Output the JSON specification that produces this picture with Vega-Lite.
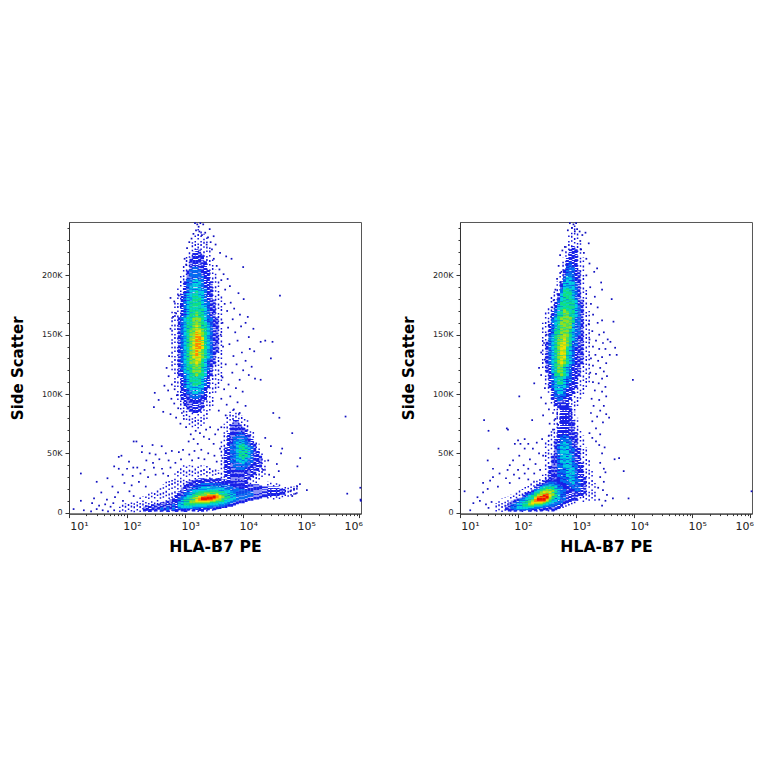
{
"$schema":"https://vega.github.io/schema/vega-lite/v5.json",
"background":"white",
"padding":{"left":9,"top":221,"right":0,"bottom":0},
"bounds":"flush",
"spacing":99,
"config":{"view":{"stroke":"#555","strokeWidth":1},"axis":{"labelFont":"DejaVu Sans","titleFont":"DejaVu Sans","labelColor":"#222","titleColor":"#000","domainColor":"#333","tickColor":"#333","grid":false,"titleFontWeight":"bold"}},
"datasets":{
"halo1":[
{"x":596,"y":120,"y2":170},{"x":668,"y":106,"y2":180},{"x":750,"y":95,"y2":190},{"x":841,"y":87,"y2":200},{"x":944,"y":81,"y2":210},{"x":1059,"y":78,"y2":216},{"x":1189,"y":74,"y2":222},{"x":1334,"y":72,"y2":228},{"x":1496,"y":73,"y2":235},{"x":1679,"y":71,"y2":240},{"x":1884,"y":73,"y2":240},{"x":2113,"y":75,"y2":235},{"x":2371,"y":79,"y2":232},{"x":2661,"y":86,"y2":225},{"x":2985,"y":90,"y2":215},{"x":3350,"y":101,"y2":205},{"x":3758,"y":105,"y2":195},{"x":4217,"y":111,"y2":185},
{"x":4217,"y":18,"y2":60},{"x":4732,"y":23,"y2":75},{"x":5309,"y":20,"y2":82},{"x":5957,"y":22,"y2":85},{"x":6683,"y":19,"y2":88},{"x":7499,"y":21,"y2":85},{"x":8414,"y":23,"y2":85},{"x":9441,"y":20,"y2":82},{"x":10590,"y":22,"y2":80},{"x":11890,"y":21,"y2":78},{"x":13340,"y":24,"y2":72},{"x":14960,"y":26,"y2":68},{"x":16790,"y":25,"y2":62},{"x":18840,"y":28,"y2":58},{"x":21130,"y":30,"y2":52},{"x":23710,"y":32,"y2":45},
{"x":75,"y":0.5,"y2":5},{"x":84,"y":1.5,"y2":7},{"x":94,"y":0.8,"y2":8},{"x":106,"y":2.2,"y2":8},{"x":119,"y":1,"y2":10},{"x":133,"y":0.4,"y2":10},{"x":150,"y":1.8,"y2":11},{"x":168,"y":0.6,"y2":13},{"x":188,"y":2.6,"y2":14},{"x":211,"y":1.3,"y2":15},{"x":237,"y":0.5,"y2":16},{"x":266,"y":2,"y2":17},{"x":299,"y":1,"y2":18},{"x":335,"y":3,"y2":20},{"x":376,"y":0.7,"y2":22},{"x":422,"y":1.7,"y2":24},{"x":473,"y":2.9,"y2":26},{"x":531,"y":0.5,"y2":28},{"x":596,"y":1.4,"y2":30},{"x":668,"y":2.4,"y2":33},{"x":750,"y":0.9,"y2":36},{"x":841,"y":3.2,"y2":38},{"x":944,"y":1.6,"y2":40},{"x":1059,"y":0.5,"y2":40},{"x":1189,"y":2.1,"y2":40},{"x":1334,"y":1.1,"y2":40},{"x":1496,"y":3,"y2":40},{"x":1679,"y":0.6,"y2":40},{"x":1884,"y":1.9,"y2":40},{"x":2113,"y":2.7,"y2":40},{"x":2371,"y":1,"y2":40},{"x":2661,"y":3.4,"y2":38},{"x":2985,"y":1.5,"y2":38},{"x":3350,"y":2.3,"y2":38},{"x":3758,"y":3.1,"y2":36},
{"x":26610,"y":12,"y2":26},{"x":29850,"y":13,"y2":26},{"x":33500,"y":11,"y2":25},{"x":37580,"y":12.5,"y2":25},{"x":42170,"y":11.5,"y2":25},{"x":47320,"y":13,"y2":24},{"x":53090,"y":14,"y2":24},{"x":59570,"y":13.5,"y2":23},{"x":66830,"y":14.5,"y2":22},{"x":74990,"y":15,"y2":22},{"x":84140,"y":16,"y2":23}
],
"cols1":[
{"x":794,"y":115,"y2":165,"d":1},{"x":891,"y":95,"y2":185,"d":1},{"x":1000,"y":90,"y2":195,"d":1},{"x":1122,"y":87,"y2":205,"d":1},{"x":1259,"y":85,"y2":215,"d":1},{"x":1413,"y":84,"y2":220,"d":1},{"x":1585,"y":84,"y2":222,"d":1},{"x":1778,"y":85,"y2":222,"d":1},{"x":1995,"y":88,"y2":218,"d":1},{"x":2239,"y":95,"y2":212,"d":1},{"x":2512,"y":105,"y2":205,"d":1},{"x":2818,"y":115,"y2":195,"d":1},{"x":3162,"y":125,"y2":180,"d":1},{"x":3548,"y":135,"y2":165,"d":1},
{"x":891,"y":120,"y2":165,"d":2},{"x":1000,"y":105,"y2":185,"d":2},{"x":1122,"y":100,"y2":198,"d":2},{"x":1259,"y":97,"y2":205,"d":2},{"x":1413,"y":96,"y2":208,"d":2},{"x":1585,"y":96,"y2":208,"d":2},{"x":1778,"y":97,"y2":205,"d":2},{"x":1995,"y":100,"y2":200,"d":2},{"x":2239,"y":107,"y2":190,"d":2},{"x":2512,"y":120,"y2":178,"d":2},{"x":2818,"y":130,"y2":165,"d":2},
{"x":1000,"y":118,"y2":165,"d":3},{"x":1122,"y":105,"y2":185,"d":3},{"x":1259,"y":103,"y2":192,"d":3},{"x":1413,"y":100,"y2":196,"d":3},{"x":1585,"y":100,"y2":197,"d":3},{"x":1778,"y":102,"y2":195,"d":3},{"x":1995,"y":105,"y2":188,"d":3},{"x":2239,"y":115,"y2":175,"d":3},{"x":2512,"y":130,"y2":160,"d":3},
{"x":1122,"y":120,"y2":165,"d":4},{"x":1259,"y":110,"y2":178,"d":4},{"x":1413,"y":107,"y2":185,"d":4},{"x":1585,"y":107,"y2":187,"d":4},{"x":1778,"y":108,"y2":182,"d":4},{"x":1995,"y":115,"y2":172,"d":4},{"x":2239,"y":130,"y2":160,"d":4},
{"x":1259,"y":125,"y2":155,"d":5},{"x":1413,"y":118,"y2":165,"d":5},{"x":1585,"y":115,"y2":170,"d":5},{"x":1778,"y":118,"y2":165,"d":5},{"x":1995,"y":130,"y2":155,"d":5},
{"x":1413,"y":130,"y2":150,"d":6},{"x":1585,"y":125,"y2":158,"d":6},{"x":1778,"y":128,"y2":155,"d":6},{"x":1995,"y":138,"y2":148,"d":6},
{"x":1585,"y":132,"y2":152,"d":7},{"x":1778,"y":138,"y2":150,"d":7},
{"x":5012,"y":30,"y2":55,"d":1},{"x":5623,"y":25,"y2":68,"d":1},{"x":6310,"y":22,"y2":75,"d":1},{"x":7079,"y":22,"y2":78,"d":1},{"x":7943,"y":22,"y2":78,"d":1},{"x":8913,"y":22,"y2":75,"d":1},{"x":10000,"y":22,"y2":72,"d":1},{"x":11220,"y":25,"y2":70,"d":1},{"x":12590,"y":28,"y2":66,"d":1},{"x":14130,"y":30,"y2":62,"d":1},{"x":15850,"y":32,"y2":58,"d":1},{"x":17780,"y":35,"y2":52,"d":1},{"x":19950,"y":38,"y2":48,"d":1},
{"x":6310,"y":42,"y2":58,"d":2},{"x":7079,"y":38,"y2":64,"d":2},{"x":7943,"y":36,"y2":67,"d":2},{"x":8913,"y":36,"y2":68,"d":2},{"x":10000,"y":36,"y2":66,"d":2},{"x":11220,"y":38,"y2":64,"d":2},{"x":12590,"y":40,"y2":60,"d":2},{"x":14130,"y":42,"y2":56,"d":2},
{"x":7943,"y":43,"y2":60,"d":3},{"x":8913,"y":42,"y2":62,"d":3},{"x":10000,"y":41,"y2":61,"d":3},{"x":11220,"y":43,"y2":58,"d":3},{"x":12590,"y":46,"y2":55,"d":3},
{"x":8913,"y":47,"y2":57,"d":4},{"x":10000,"y":45,"y2":58,"d":4},{"x":11220,"y":47,"y2":55,"d":4},
{"x":200,"y":1,"y2":5,"d":1},{"x":224,"y":1.6,"y2":6,"d":1},{"x":251,"y":0.6,"y2":6,"d":1},{"x":282,"y":2,"y2":7,"d":1},{"x":316,"y":1,"y2":7,"d":1},{"x":355,"y":2.4,"y2":8,"d":1},{"x":398,"y":0.8,"y2":9,"d":1},{"x":447,"y":1.8,"y2":9,"d":1},{"x":501,"y":0.5,"y2":10,"d":1},{"x":562,"y":2.6,"y2":11,"d":1},{"x":631,"y":1.2,"y2":13,"d":1},{"x":708,"y":0.5,"y2":16,"d":1},{"x":794,"y":2.1,"y2":18,"d":1},{"x":891,"y":1,"y2":21,"d":1},{"x":1000,"y":0.5,"y2":24,"d":1},{"x":1122,"y":1.7,"y2":26,"d":1},{"x":1259,"y":2.8,"y2":27,"d":1},{"x":1413,"y":1,"y2":28,"d":1},{"x":1585,"y":2.2,"y2":28,"d":1},{"x":1778,"y":1.4,"y2":29,"d":1},{"x":1995,"y":0.7,"y2":29,"d":1},{"x":2239,"y":2.5,"y2":29,"d":1},{"x":2512,"y":2,"y2":29,"d":1},{"x":2818,"y":3.2,"y2":29,"d":1},{"x":3162,"y":2,"y2":29,"d":1},{"x":3548,"y":2.9,"y2":29,"d":1},{"x":3981,"y":3,"y2":29,"d":1},{"x":4467,"y":4,"y2":28,"d":1},{"x":5012,"y":4,"y2":28,"d":1},{"x":5623,"y":5,"y2":27,"d":1},{"x":6310,"y":5,"y2":26,"d":1},{"x":7079,"y":6,"y2":26,"d":1},{"x":7943,"y":7,"y2":25,"d":1},{"x":8913,"y":8,"y2":25,"d":1},{"x":10000,"y":8,"y2":25,"d":1},{"x":11220,"y":9,"y2":25,"d":1},{"x":12590,"y":10,"y2":24,"d":1},{"x":14130,"y":10,"y2":24,"d":1},{"x":15850,"y":11,"y2":24,"d":1},{"x":17780,"y":11,"y2":24,"d":1},{"x":19950,"y":12,"y2":23,"d":1},{"x":22390,"y":13,"y2":22,"d":1},{"x":25120,"y":13,"y2":22,"d":1},{"x":28180,"y":14,"y2":22,"d":1},{"x":31620,"y":14,"y2":22,"d":1},{"x":35480,"y":14,"y2":22,"d":1},{"x":39810,"y":14,"y2":22,"d":1},{"x":44670,"y":15,"y2":21,"d":1},{"x":50120,"y":15,"y2":20,"d":1},
{"x":398,"y":2,"y2":5,"d":2},{"x":501,"y":2,"y2":6,"d":2},{"x":631,"y":2,"y2":8,"d":2},{"x":794,"y":3,"y2":12,"d":2},{"x":891,"y":3,"y2":14,"d":2},{"x":1000,"y":3,"y2":17,"d":2},{"x":1122,"y":3,"y2":19,"d":2},{"x":1259,"y":3,"y2":21,"d":2},{"x":1413,"y":3,"y2":22,"d":2},{"x":1585,"y":3,"y2":23,"d":2},{"x":1778,"y":4,"y2":24,"d":2},{"x":1995,"y":4,"y2":25,"d":2},{"x":2239,"y":4,"y2":25,"d":2},{"x":2512,"y":4,"y2":25,"d":2},{"x":2818,"y":4,"y2":25,"d":2},{"x":3162,"y":5,"y2":25,"d":2},{"x":3548,"y":5,"y2":25,"d":2},{"x":3981,"y":5,"y2":25,"d":2},{"x":4467,"y":5,"y2":24,"d":2},{"x":5012,"y":6,"y2":24,"d":2},{"x":5623,"y":7,"y2":23,"d":2},{"x":6310,"y":8,"y2":22,"d":2},{"x":7079,"y":9,"y2":21,"d":2},{"x":7943,"y":10,"y2":21,"d":2},{"x":8913,"y":11,"y2":20,"d":2},{"x":10000,"y":11,"y2":20,"d":2},{"x":11220,"y":12,"y2":19,"d":2},{"x":12590,"y":13,"y2":19,"d":2},{"x":14130,"y":14,"y2":18,"d":2},
{"x":794,"y":5,"y2":9,"d":3},{"x":891,"y":4,"y2":11,"d":3},{"x":1000,"y":4,"y2":13,"d":3},{"x":1122,"y":4,"y2":15,"d":3},{"x":1259,"y":4,"y2":17,"d":3},{"x":1413,"y":5,"y2":19,"d":3},{"x":1585,"y":5,"y2":20,"d":3},{"x":1778,"y":5,"y2":21,"d":3},{"x":1995,"y":5,"y2":22,"d":3},{"x":2239,"y":5,"y2":22,"d":3},{"x":2512,"y":6,"y2":22,"d":3},{"x":2818,"y":6,"y2":22,"d":3},{"x":3162,"y":6,"y2":22,"d":3},{"x":3548,"y":6,"y2":22,"d":3},{"x":3981,"y":7,"y2":21,"d":3},{"x":4467,"y":7,"y2":21,"d":3},{"x":5012,"y":8,"y2":20,"d":3},{"x":5623,"y":9,"y2":19,"d":3},{"x":6310,"y":10,"y2":18,"d":3},{"x":7079,"y":11,"y2":17,"d":3},
{"x":1000,"y":6,"y2":11,"d":4},{"x":1122,"y":6,"y2":13,"d":4},{"x":1259,"y":6,"y2":14,"d":4},{"x":1413,"y":6,"y2":16,"d":4},{"x":1585,"y":7,"y2":17,"d":4},{"x":1778,"y":7,"y2":18,"d":4},{"x":1995,"y":7,"y2":18,"d":4},{"x":2239,"y":7,"y2":19,"d":4},{"x":2512,"y":7,"y2":19,"d":4},{"x":2818,"y":8,"y2":19,"d":4},{"x":3162,"y":8,"y2":19,"d":4},{"x":3548,"y":8,"y2":19,"d":4},{"x":3981,"y":9,"y2":18,"d":4},{"x":4467,"y":9,"y2":18,"d":4},{"x":5012,"y":11,"y2":17,"d":4},{"x":5623,"y":12,"y2":16,"d":4},
{"x":1259,"y":8,"y2":12,"d":5},{"x":1413,"y":8,"y2":14,"d":5},{"x":1585,"y":8,"y2":15,"d":5},{"x":1778,"y":8,"y2":16,"d":5},{"x":1995,"y":8,"y2":16,"d":5},{"x":2239,"y":8,"y2":17,"d":5},{"x":2512,"y":8,"y2":17,"d":5},{"x":2818,"y":9,"y2":17,"d":5},{"x":3162,"y":9,"y2":17,"d":5},{"x":3548,"y":10,"y2":17,"d":5},{"x":3981,"y":10,"y2":16,"d":5},{"x":4467,"y":12,"y2":15,"d":5},
{"x":1585,"y":9,"y2":13,"d":6},{"x":1778,"y":9,"y2":14,"d":6},{"x":1995,"y":9,"y2":15,"d":6},{"x":2239,"y":9,"y2":15,"d":6},{"x":2512,"y":9,"y2":16,"d":6},{"x":2818,"y":10,"y2":16,"d":6},{"x":3162,"y":10,"y2":16,"d":6},{"x":3548,"y":11,"y2":16,"d":6},{"x":3981,"y":12,"y2":15,"d":6},
{"x":1778,"y":10,"y2":13,"d":7},{"x":1995,"y":10,"y2":14,"d":7},{"x":2239,"y":10,"y2":14,"d":7},{"x":2512,"y":10,"y2":15,"d":7},{"x":2818,"y":10,"y2":15,"d":7},{"x":3162,"y":11,"y2":15,"d":7},{"x":3548,"y":12,"y2":15,"d":7},
{"x":1995,"y":10.5,"y2":13.5,"d":8},{"x":2239,"y":10.5,"y2":14,"d":8},{"x":2512,"y":11,"y2":14,"d":8},{"x":2818,"y":11,"y2":14.5,"d":8},{"x":3162,"y":12,"y2":14.5,"d":8}
],
"dots1":[
{"x":1480,"y":244},{"x":1620,"y":243},{"x":1710,"y":241},{"x":1830,"y":244},{"x":2050,"y":243},{"x":1540,"y":238},{"x":1760,"y":237},{"x":2220,"y":236},{"x":2650,"y":239},{"x":1390,"y":235},{"x":1950,"y":234},{"x":2480,"y":232},{"x":3100,"y":233},{"x":1290,"y":231},{"x":2750,"y":228},{"x":1180,"y":228},{"x":2350,"y":226},{"x":3350,"y":226},{"x":1080,"y":223},{"x":2900,"y":222},{"x":4000,"y":219},{"x":5100,"y":216},{"x":6300,"y":214},{"x":10000,"y":207},{"x":43000,"y":183},
{"x":980,"y":214},{"x":1040,"y":209},{"x":3120,"y":214},{"x":3500,"y":208},{"x":3900,"y":205},{"x":4600,"y":201},{"x":5400,"y":197},{"x":4200,"y":196},{"x":5900,"y":191},{"x":4900,"y":188},{"x":8300,"y":185},{"x":10200,"y":180},{"x":6100,"y":177},{"x":7000,"y":172},{"x":4800,"y":176},{"x":5300,"y":170},{"x":12000,"y":165},{"x":8800,"y":167},{"x":6600,"y":163},{"x":4400,"y":160},{"x":11000,"y":160},{"x":5500,"y":156},{"x":9200,"y":157},{"x":15000,"y":155},{"x":7300,"y":152},{"x":4100,"y":150},{"x":12500,"y":148},{"x":20000,"y":144},{"x":24000,"y":145},{"x":32000,"y":144},{"x":8000,"y":145},{"x":5800,"y":142},{"x":4500,"y":140},{"x":13000,"y":138},{"x":15500,"y":136},{"x":9500,"y":135},{"x":6800,"y":132},{"x":30000,"y":130},{"x":11000,"y":128},{"x":7700,"y":125},{"x":5000,"y":125},{"x":14000,"y":123},{"x":10000,"y":120},{"x":6500,"y":118},{"x":12500,"y":116},{"x":4400,"y":114},{"x":16000,"y":113},{"x":20000,"y":112},{"x":8700,"y":112},{"x":5600,"y":108},{"x":7500,"y":105},{"x":4700,"y":104},{"x":9800,"y":102},{"x":6000,"y":98},{"x":4200,"y":96},{"x":8000,"y":93},{"x":5200,"y":91},{"x":11000,"y":90},{"x":6900,"y":87},{"x":3800,"y":86},{"x":33000,"y":84},{"x":8700,"y":84},{"x":5000,"y":82},{"x":42000,"y":80},{"x":580000,"y":81},
{"x":560,"y":181},{"x":650,"y":178},{"x":780,"y":183},{"x":840,"y":174},{"x":700,"y":168},{"x":620,"y":165},{"x":560,"y":155},{"x":530,"y":132},{"x":480,"y":122},{"x":520,"y":115},{"x":590,"y":108},{"x":440,"y":107},{"x":660,"y":104},{"x":510,"y":103},{"x":300,"y":101},{"x":720,"y":99},{"x":580,"y":96},{"x":350,"y":95},{"x":290,"y":89},{"x":650,"y":92},{"x":760,"y":88},{"x":420,"y":85},{"x":880,"y":84},{"x":560,"y":83},{"x":700,"y":80},{"x":950,"y":79},{"x":830,"y":75},{"x":1040,"y":72},{"x":1250,"y":66},{"x":1520,"y":69},{"x":1800,"y":67},{"x":2300,"y":70},{"x":2700,"y":72},{"x":1400,"y":62},{"x":1150,"y":60},{"x":2100,"y":64},{"x":3300,"y":66},{"x":3700,"y":70},{"x":4200,"y":72},{"x":1650,"y":58},{"x":2600,"y":62},{"x":3100,"y":58},
{"x":130,"y":60},{"x":145,"y":60},{"x":182,"y":56},{"x":275,"y":57},{"x":395,"y":56},{"x":180,"y":51},{"x":245,"y":50},{"x":310,"y":49},{"x":465,"y":50},{"x":590,"y":52},{"x":780,"y":51},{"x":920,"y":53},{"x":1180,"y":49},{"x":1450,"y":52},{"x":1900,"y":53},{"x":2500,"y":50},{"x":3200,"y":48},{"x":4000,"y":54},{"x":4400,"y":46},{"x":80,"y":48},{"x":72,"y":47},{"x":108,"y":43},{"x":215,"y":44},{"x":280,"y":42},{"x":360,"y":45},{"x":520,"y":44},{"x":680,"y":42},{"x":850,"y":45},{"x":1320,"y":44},{"x":1700,"y":46},{"x":2150,"y":45},{"x":3500,"y":43},{"x":24000,"y":63},{"x":30000,"y":56},{"x":27000,"y":44},{"x":38000,"y":41},{"x":45000,"y":50},{"x":47000,"y":54},{"x":70000,"y":67},{"x":96000,"y":46},{"x":86000,"y":39},{"x":22000,"y":36},{"x":28000,"y":32},{"x":34000,"y":30},{"x":41000,"y":35},
{"x":60,"y":39},{"x":72,"y":37},{"x":16,"y":33},{"x":100,"y":37},{"x":128,"y":38},{"x":150,"y":38},{"x":200,"y":36},{"x":290,"y":38},{"x":400,"y":37},{"x":560,"y":38},{"x":46,"y":29},{"x":30,"y":26},{"x":84,"y":32},{"x":125,"y":31},{"x":170,"y":33},{"x":230,"y":30},{"x":310,"y":32},{"x":420,"y":33},{"x":510,"y":31},{"x":75000,"y":20},{"x":85000,"y":22},{"x":95000,"y":24},{"x":125000,"y":19},{"x":65000,"y":18},{"x":80000,"y":16},{"x":70000,"y":14},
{"x":90,"y":25},{"x":120,"y":23},{"x":160,"y":26},{"x":210,"y":22},{"x":56,"y":22},{"x":36,"y":17},{"x":70,"y":17},{"x":110,"y":18},{"x":130,"y":14},{"x":27,"y":12},{"x":45,"y":11},{"x":62,"y":13},{"x":85,"y":10},{"x":16,"y":10},{"x":25,"y":8},{"x":33,"y":6},{"x":42,"y":7},{"x":52,"y":5},{"x":58,"y":8},{"x":12,"y":3},{"x":18,"y":2},{"x":24,"y":1},{"x":30,"y":3},{"x":38,"y":2},{"x":47,"y":1},{"x":60,"y":2},
{"x":1040000,"y":21},{"x":1050000,"y":11},{"x":620000,"y":16},{"x":1060000,"y":10}
],
"halo2":[
{"x":266,"y":122,"y2":160},{"x":299,"y":108,"y2":170},{"x":335,"y":101,"y2":175},{"x":376,"y":92,"y2":182},{"x":422,"y":86,"y2":188},{"x":473,"y":80,"y2":195},{"x":531,"y":76,"y2":205},{"x":596,"y":74,"y2":215},{"x":668,"y":75,"y2":225},{"x":750,"y":73,"y2":235},{"x":841,"y":80,"y2":242},{"x":944,"y":86,"y2":243},{"x":1059,"y":90,"y2":238},{"x":1189,"y":96,"y2":228},{"x":1334,"y":100,"y2":215},{"x":1496,"y":106,"y2":190},{"x":1679,"y":110,"y2":170},
{"x":299,"y":25,"y2":60},{"x":335,"y":27,"y2":65},{"x":376,"y":24,"y2":72},{"x":422,"y":26,"y2":80},{"x":473,"y":23,"y2":85},{"x":531,"y":27,"y2":80},{"x":596,"y":25,"y2":80},{"x":668,"y":22,"y2":80},{"x":750,"y":26,"y2":85},{"x":841,"y":20,"y2":85},{"x":944,"y":15,"y2":85},{"x":1059,"y":10,"y2":80},{"x":1189,"y":12,"y2":70},{"x":1334,"y":9,"y2":65},{"x":1496,"y":11,"y2":55},{"x":1679,"y":10,"y2":45},{"x":1884,"y":12,"y2":35},{"x":2113,"y":10,"y2":25},
{"x":42,"y":1,"y2":8},{"x":47,"y":2,"y2":10},{"x":53,"y":0.5,"y2":12},{"x":60,"y":1.6,"y2":13},{"x":67,"y":2.8,"y2":14},{"x":75,"y":0.9,"y2":15},{"x":84,"y":2.2,"y2":16},{"x":94,"y":1.2,"y2":18},{"x":106,"y":3,"y2":19},{"x":119,"y":0.6,"y2":20},{"x":133,"y":1.9,"y2":22},{"x":150,"y":2.6,"y2":24},{"x":168,"y":1,"y2":25},{"x":188,"y":3.3,"y2":27},{"x":211,"y":0.7,"y2":29},{"x":237,"y":2,"y2":30},{"x":266,"y":1.4,"y2":32},{"x":299,"y":2.9,"y2":32},{"x":335,"y":1,"y2":33},{"x":376,"y":2.4,"y2":33},{"x":422,"y":1.7,"y2":33},{"x":473,"y":3,"y2":33},{"x":531,"y":3.6,"y2":33},{"x":596,"y":4,"y2":33},{"x":668,"y":5,"y2":33},{"x":750,"y":6,"y2":33},{"x":841,"y":7,"y2":33},{"x":944,"y":8,"y2":33}
],
"cols2":[
{"x":316,"y":118,"y2":145,"d":1},{"x":355,"y":105,"y2":160,"d":1},{"x":398,"y":95,"y2":170,"d":1},{"x":447,"y":90,"y2":178,"d":1},{"x":501,"y":88,"y2":185,"d":1},{"x":562,"y":88,"y2":195,"d":1},{"x":631,"y":88,"y2":205,"d":1},{"x":708,"y":90,"y2":215,"d":1},{"x":794,"y":95,"y2":222,"d":1},{"x":891,"y":100,"y2":225,"d":1},{"x":1000,"y":105,"y2":222,"d":1},{"x":1122,"y":115,"y2":205,"d":1},{"x":1259,"y":125,"y2":180,"d":1},
{"x":355,"y":125,"y2":150,"d":2},{"x":398,"y":105,"y2":165,"d":2},{"x":447,"y":97,"y2":172,"d":2},{"x":501,"y":94,"y2":180,"d":2},{"x":562,"y":95,"y2":190,"d":2},{"x":631,"y":98,"y2":200,"d":2},{"x":708,"y":105,"y2":208,"d":2},{"x":794,"y":110,"y2":212,"d":2},{"x":891,"y":125,"y2":208,"d":2},{"x":1000,"y":140,"y2":195,"d":2},{"x":1122,"y":150,"y2":175,"d":2},
{"x":398,"y":118,"y2":150,"d":3},{"x":447,"y":103,"y2":165,"d":3},{"x":501,"y":100,"y2":175,"d":3},{"x":562,"y":100,"y2":185,"d":3},{"x":631,"y":105,"y2":195,"d":3},{"x":708,"y":115,"y2":199,"d":3},{"x":794,"y":125,"y2":200,"d":3},{"x":891,"y":145,"y2":195,"d":3},{"x":1000,"y":165,"y2":180,"d":3},
{"x":447,"y":115,"y2":155,"d":4},{"x":501,"y":108,"y2":168,"d":4},{"x":562,"y":108,"y2":178,"d":4},{"x":631,"y":115,"y2":188,"d":4},{"x":708,"y":125,"y2":190,"d":4},{"x":794,"y":140,"y2":188,"d":4},{"x":891,"y":160,"y2":180,"d":4},
{"x":501,"y":118,"y2":150,"d":5},{"x":562,"y":115,"y2":165,"d":5},{"x":631,"y":125,"y2":172,"d":5},{"x":708,"y":140,"y2":170,"d":5},{"x":794,"y":155,"y2":165,"d":5},
{"x":562,"y":125,"y2":145,"d":6},{"x":631,"y":130,"y2":150,"d":6},
{"x":355,"y":25,"y2":40,"d":1},{"x":398,"y":22,"y2":48,"d":1},{"x":447,"y":22,"y2":62,"d":1},{"x":501,"y":20,"y2":72,"d":1},{"x":562,"y":20,"y2":90,"d":1},{"x":631,"y":20,"y2":90,"d":1},{"x":708,"y":20,"y2":90,"d":1},{"x":794,"y":18,"y2":90,"d":1},{"x":891,"y":18,"y2":78,"d":1},{"x":1000,"y":16,"y2":68,"d":1},{"x":1122,"y":14,"y2":55,"d":1},{"x":1259,"y":14,"y2":42,"d":1},{"x":1413,"y":16,"y2":30,"d":1},
{"x":501,"y":30,"y2":58,"d":2},{"x":562,"y":26,"y2":65,"d":2},{"x":631,"y":25,"y2":66,"d":2},{"x":708,"y":24,"y2":65,"d":2},{"x":794,"y":22,"y2":62,"d":2},{"x":891,"y":20,"y2":55,"d":2},{"x":1000,"y":18,"y2":42,"d":2},{"x":1122,"y":18,"y2":28,"d":2},
{"x":562,"y":42,"y2":58,"d":3},{"x":631,"y":38,"y2":60,"d":3},{"x":708,"y":30,"y2":58,"d":3},{"x":794,"y":26,"y2":50,"d":3},{"x":891,"y":24,"y2":38,"d":3},
{"x":63,"y":2,"y2":6,"d":1},{"x":71,"y":1,"y2":9,"d":1},{"x":79,"y":1.8,"y2":10,"d":1},{"x":89,"y":0.7,"y2":11,"d":1},{"x":100,"y":2.3,"y2":12,"d":1},{"x":112,"y":1,"y2":13,"d":1},{"x":126,"y":1.6,"y2":15,"d":1},{"x":141,"y":2.6,"y2":17,"d":1},{"x":158,"y":0.8,"y2":18,"d":1},{"x":178,"y":2,"y2":20,"d":1},{"x":200,"y":1.2,"y2":22,"d":1},{"x":224,"y":2.9,"y2":24,"d":1},{"x":251,"y":1,"y2":25,"d":1},{"x":282,"y":2.1,"y2":27,"d":1},{"x":316,"y":1.5,"y2":28,"d":1},{"x":355,"y":2.7,"y2":28,"d":1},{"x":398,"y":1,"y2":29,"d":1},{"x":447,"y":2,"y2":29,"d":1},{"x":501,"y":3,"y2":30,"d":1},{"x":562,"y":5,"y2":30,"d":1},{"x":631,"y":7,"y2":30,"d":1},{"x":708,"y":8,"y2":30,"d":1},{"x":794,"y":9,"y2":20,"d":1},{"x":891,"y":10,"y2":18,"d":1},{"x":1000,"y":10,"y2":15,"d":1},
{"x":79,"y":3,"y2":7,"d":2},{"x":89,"y":2,"y2":9,"d":2},{"x":100,"y":2,"y2":10,"d":2},{"x":112,"y":2,"y2":12,"d":2},{"x":126,"y":2,"y2":13,"d":2},{"x":141,"y":2,"y2":15,"d":2},{"x":158,"y":2,"y2":16,"d":2},{"x":178,"y":3,"y2":18,"d":2},{"x":200,"y":3,"y2":20,"d":2},{"x":224,"y":3,"y2":21,"d":2},{"x":251,"y":4,"y2":23,"d":2},{"x":282,"y":4,"y2":24,"d":2},{"x":316,"y":5,"y2":25,"d":2},{"x":355,"y":5,"y2":26,"d":2},{"x":398,"y":5,"y2":26,"d":2},{"x":447,"y":6,"y2":26,"d":2},{"x":501,"y":7,"y2":24,"d":2},{"x":562,"y":8,"y2":22,"d":2},{"x":631,"y":10,"y2":20,"d":2},
{"x":100,"y":3,"y2":8,"d":3},{"x":112,"y":3,"y2":10,"d":3},{"x":126,"y":3,"y2":11,"d":3},{"x":141,"y":3,"y2":13,"d":3},{"x":158,"y":4,"y2":15,"d":3},{"x":178,"y":4,"y2":16,"d":3},{"x":200,"y":5,"y2":18,"d":3},{"x":224,"y":5,"y2":20,"d":3},{"x":251,"y":5,"y2":22,"d":3},{"x":282,"y":6,"y2":23,"d":3},{"x":316,"y":6,"y2":24,"d":3},{"x":355,"y":7,"y2":24,"d":3},{"x":398,"y":8,"y2":24,"d":3},{"x":447,"y":9,"y2":23,"d":3},{"x":501,"y":11,"y2":20,"d":3},
{"x":126,"y":5,"y2":9,"d":4},{"x":141,"y":5,"y2":11,"d":4},{"x":158,"y":5,"y2":13,"d":4},{"x":178,"y":5,"y2":15,"d":4},{"x":200,"y":6,"y2":17,"d":4},{"x":224,"y":6,"y2":18,"d":4},{"x":251,"y":6,"y2":20,"d":4},{"x":282,"y":7,"y2":21,"d":4},{"x":316,"y":8,"y2":22,"d":4},{"x":355,"y":9,"y2":22,"d":4},{"x":398,"y":11,"y2":22,"d":4},{"x":447,"y":13,"y2":20,"d":4},
{"x":158,"y":6,"y2":10,"d":5},{"x":178,"y":6,"y2":12,"d":5},{"x":200,"y":7,"y2":14,"d":5},{"x":224,"y":7,"y2":16,"d":5},{"x":251,"y":7,"y2":18,"d":5},{"x":282,"y":8,"y2":19,"d":5},{"x":316,"y":9,"y2":20,"d":5},{"x":355,"y":11,"y2":20,"d":5},{"x":398,"y":14,"y2":19,"d":5},
{"x":178,"y":7,"y2":10,"d":6},{"x":200,"y":8,"y2":13,"d":6},{"x":224,"y":8,"y2":15,"d":6},{"x":251,"y":8,"y2":16,"d":6},{"x":282,"y":9,"y2":18,"d":6},{"x":316,"y":10,"y2":18,"d":6},{"x":355,"y":13,"y2":18,"d":6},
{"x":200,"y":9,"y2":12,"d":7},{"x":224,"y":9,"y2":14,"d":7},{"x":251,"y":9,"y2":15,"d":7},{"x":282,"y":9,"y2":16,"d":7},{"x":316,"y":11,"y2":17,"d":7},
{"x":224,"y":10,"y2":13,"d":8},{"x":251,"y":10,"y2":14,"d":8},{"x":282,"y":10,"y2":15,"d":8},{"x":316,"y":12,"y2":16,"d":8}
],
"dots2":[
{"x":780,"y":244},{"x":900,"y":243},{"x":1000,"y":244},{"x":850,"y":240},{"x":1040,"y":239},{"x":720,"y":238},{"x":950,"y":237},{"x":1150,"y":237},{"x":1450,"y":236},{"x":1280,"y":234},{"x":1180,"y":229},{"x":1650,"y":227},{"x":640,"y":224},{"x":1220,"y":222},{"x":580,"y":221},{"x":1360,"y":219},{"x":530,"y":217},{"x":1500,"y":214},{"x":1700,"y":210},{"x":2300,"y":206},{"x":2050,"y":203},{"x":500,"y":208},{"x":560,"y":203},{"x":2700,"y":194},{"x":1500,"y":200},{"x":470,"y":197},{"x":540,"y":194},{"x":1750,"y":190},{"x":2800,"y":188},{"x":440,"y":188},{"x":500,"y":184},{"x":2100,"y":182},{"x":4100,"y":180},{"x":410,"y":179},{"x":1800,"y":176},{"x":2350,"y":173},{"x":390,"y":173},{"x":1960,"y":167},{"x":370,"y":165},{"x":2800,"y":162},{"x":4400,"y":161},{"x":2350,"y":160},{"x":1650,"y":159},{"x":340,"y":158},{"x":3000,"y":152},{"x":1900,"y":153},{"x":310,"y":150},{"x":2500,"y":150},{"x":3500,"y":146},{"x":1700,"y":146},{"x":2200,"y":145},{"x":280,"y":143},{"x":2900,"y":143},{"x":3900,"y":144},{"x":5000,"y":133},{"x":4700,"y":139},{"x":1950,"y":140},{"x":2500,"y":138},{"x":3200,"y":138},{"x":250,"y":135},{"x":3800,"y":133},{"x":2150,"y":133},{"x":2800,"y":131},{"x":1800,"y":130},{"x":2400,"y":128},{"x":290,"y":129},{"x":3300,"y":126},{"x":1950,"y":124},{"x":230,"y":122},{"x":2600,"y":122},{"x":3000,"y":119},{"x":1750,"y":118},{"x":2200,"y":117},{"x":3400,"y":115},{"x":250,"y":116},{"x":2800,"y":113},{"x":1950,"y":110},{"x":9500,"y":112},{"x":190,"y":109},{"x":2450,"y":109},{"x":3200,"y":106},{"x":290,"y":105},{"x":2100,"y":103},{"x":2800,"y":102},{"x":105,"y":98},{"x":250,"y":97},{"x":3300,"y":98},{"x":1850,"y":96},{"x":2500,"y":95},{"x":300,"y":92},{"x":3000,"y":90},{"x":2000,"y":90},{"x":340,"y":87},{"x":2600,"y":86},{"x":1800,"y":84},{"x":400,"y":84},{"x":3300,"y":83},{"x":270,"y":82},{"x":2300,"y":81},{"x":3700,"y":80},{"x":440,"y":79},{"x":175,"y":78},{"x":26,"y":78},{"x":1900,"y":77},{"x":2900,"y":76},{"x":350,"y":75},{"x":490,"y":74},{"x":64,"y":71},{"x":67,"y":70},{"x":31,"y":69},{"x":2200,"y":71},{"x":400,"y":70},{"x":1700,"y":67},{"x":2600,"y":66},{"x":340,"y":65},{"x":1900,"y":63},{"x":260,"y":62},{"x":130,"y":62},{"x":100,"y":61},{"x":2200,"y":60},{"x":88,"y":58},{"x":110,"y":58},{"x":150,"y":58},{"x":210,"y":59},{"x":2500,"y":57},{"x":3100,"y":55},{"x":46,"y":54},{"x":130,"y":54},{"x":180,"y":54},{"x":230,"y":50},{"x":2800,"y":50},{"x":270,"y":48},{"x":105,"y":48},{"x":5500,"y":46},{"x":4600,"y":45},{"x":30,"y":44},{"x":160,"y":45},{"x":82,"y":44},{"x":2600,"y":42},{"x":72,"y":40},{"x":125,"y":40},{"x":200,"y":41},{"x":3000,"y":37},{"x":6600,"y":35},{"x":37,"y":37},{"x":66,"y":36},{"x":100,"y":36},{"x":150,"y":37},{"x":240,"y":36},{"x":3200,"y":34},{"x":48,"y":33},{"x":85,"y":32},{"x":130,"y":33},{"x":190,"y":33},{"x":2600,"y":30},{"x":37,"y":30},{"x":62,"y":29},{"x":105,"y":29},{"x":150,"y":28},{"x":3000,"y":26},{"x":33,"y":27},{"x":72,"y":25},{"x":25,"y":25},{"x":45,"y":22},{"x":2400,"y":21},{"x":2900,"y":19},{"x":30,"y":20},{"x":12,"y":18},{"x":25,"y":17},{"x":3400,"y":15},{"x":4300,"y":12},{"x":8000,"y":12},{"x":20,"y":13},{"x":2500,"y":11},{"x":3200,"y":10},{"x":2800,"y":6},{"x":22,"y":10},{"x":35,"y":9},{"x":17,"y":8},{"x":28,"y":7},{"x":15,"y":2},{"x":31,"y":4},{"x":1050000,"y":18}
]
},
"hconcat":[
{"width":292,"height":291.6,"layer":[
{"data":{"name":"halo1"},"mark":{"type":"rule","strokeWidth":1.5,"color":"#1414d8","strokeDash":[1.5,2.5,2,1.5,1.5,4,1.5,2,2,3.5]},"encoding":{"x":{"field":"x","type":"quantitative","title":"HLA-B7 PE"},"y":{"field":"y","type":"quantitative","title":"Side Scatter"},"y2":{"field":"y2"}}},
{"data":{"name":"cols1"},"mark":{"type":"rule","strokeWidth":3,"strokeDash":[3,1,2,1,1,1,4,1]},"encoding":{
"x":{"field":"x","type":"quantitative","title":"HLA-B7 PE","scale":{"type":"log","domain":[10,1070000],"nice":false},"axis":{"values":[10,20,30,40,50,60,70,80,90,100,200,300,400,500,600,700,800,900,1000,2000,3000,4000,5000,6000,7000,8000,9000,10000,20000,30000,40000,50000,60000,70000,80000,90000,100000,200000,300000,400000,500000,600000,700000,800000,900000,1000000],"labelExpr":"datum.value==10?'10¹':datum.value==100?'10²':datum.value==1000?'10³':datum.value==10000?'10⁴':datum.value==100000?'10⁵':datum.value==1000000?'10⁶':''","labelFontSize":11,"labelOverlap":false,"labelFlush":false,"labelPadding":3,"labelOffset":{"condition":[{"test":"datum.value==10","value":10},{"test":"datum.value==1000000","value":-6}],"value":5},"tickSize":{"condition":{"test":"datum.value==10||datum.value==100||datum.value==1000||datum.value==10000||datum.value==100000||datum.value==1000000","value":4},"value":2},"titlePadding":8,"titleFontSize":15.7}},
"y":{"field":"y","type":"quantitative","title":"Side Scatter","scale":{"domain":[-0.8,245],"nice":false},"axis":{"values":[0,10,20,30,40,50,60,70,80,90,100,110,120,130,140,150,160,170,180,190,200,210,220,230,240],"tickCount":30,"labelExpr":"datum.value==0?'0':datum.value==50?'50K':datum.value==100?'100K':datum.value==150?'150K':datum.value==200?'200K':''","labelFontSize":8,"labelOverlap":false,"labelSeparation":0,"labelPadding":3,"tickSize":{"condition":{"test":"datum.value==0||datum.value==50||datum.value==100||datum.value==150||datum.value==200","value":4},"value":2},"titlePadding":16,"titleFontSize":15}},
"y2":{"field":"y2"},
"color":{"field":"d","type":"ordinal","legend":null,"scale":{"domain":[1,2,3,4,5,6,7,8],"range":["#1820e8","#0070f0","#00d0e0","#10e080","#90e020","#f0e000","#ff8800","#f01000"]}},
"order":{"field":"d"}}},
{"data":{"name":"dots1"},"mark":{"type":"square","size":3,"color":"#1010c0","opacity":1},"encoding":{"x":{"field":"x","type":"quantitative"},"y":{"field":"y","type":"quantitative"}}}
]},
{"width":292,"height":291.6,"layer":[
{"data":{"name":"halo2"},"mark":{"type":"rule","strokeWidth":1.5,"color":"#1414d8","strokeDash":[1.5,2.5,2,1.5,1.5,4,1.5,2,2,3.5]},"encoding":{"x":{"field":"x","type":"quantitative","title":"HLA-B7 PE"},"y":{"field":"y","type":"quantitative","title":"Side Scatter"},"y2":{"field":"y2"}}},
{"data":{"name":"cols2"},"mark":{"type":"rule","strokeWidth":3,"strokeDash":[3,1,2,1,1,1,4,1]},"encoding":{
"x":{"field":"x","type":"quantitative","title":"HLA-B7 PE","scale":{"type":"log","domain":[10,1070000],"nice":false},"axis":{"values":[10,20,30,40,50,60,70,80,90,100,200,300,400,500,600,700,800,900,1000,2000,3000,4000,5000,6000,7000,8000,9000,10000,20000,30000,40000,50000,60000,70000,80000,90000,100000,200000,300000,400000,500000,600000,700000,800000,900000,1000000],"labelExpr":"datum.value==10?'10¹':datum.value==100?'10²':datum.value==1000?'10³':datum.value==10000?'10⁴':datum.value==100000?'10⁵':datum.value==1000000?'10⁶':''","labelFontSize":11,"labelOverlap":false,"labelFlush":false,"labelPadding":3,"labelOffset":{"condition":[{"test":"datum.value==10","value":10},{"test":"datum.value==1000000","value":-6}],"value":5},"tickSize":{"condition":{"test":"datum.value==10||datum.value==100||datum.value==1000||datum.value==10000||datum.value==100000||datum.value==1000000","value":4},"value":2},"titlePadding":8,"titleFontSize":15.7}},
"y":{"field":"y","type":"quantitative","title":"Side Scatter","scale":{"domain":[-0.8,245],"nice":false},"axis":{"values":[0,10,20,30,40,50,60,70,80,90,100,110,120,130,140,150,160,170,180,190,200,210,220,230,240],"tickCount":30,"labelExpr":"datum.value==0?'0':datum.value==50?'50K':datum.value==100?'100K':datum.value==150?'150K':datum.value==200?'200K':''","labelFontSize":8,"labelOverlap":false,"labelSeparation":0,"labelPadding":3,"tickSize":{"condition":{"test":"datum.value==0||datum.value==50||datum.value==100||datum.value==150||datum.value==200","value":4},"value":2},"titlePadding":16,"titleFontSize":15}},
"y2":{"field":"y2"},
"color":{"field":"d","type":"ordinal","legend":null,"scale":{"domain":[1,2,3,4,5,6,7,8],"range":["#1820e8","#0070f0","#00d0e0","#10e080","#90e020","#f0e000","#ff8800","#f01000"]}},
"order":{"field":"d"}}},
{"data":{"name":"dots2"},"mark":{"type":"square","size":3,"color":"#1010c0","opacity":1},"encoding":{"x":{"field":"x","type":"quantitative"},"y":{"field":"y","type":"quantitative"}}}
]}
]
}
